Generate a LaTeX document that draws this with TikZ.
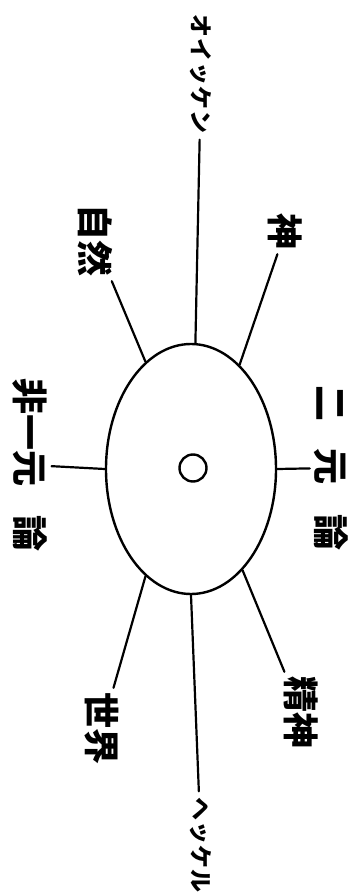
\documentclass[tikz,border=0pt]{standalone}
\usepackage{fontspec}
\usepackage{tikz}
\usetikzlibrary{arrows.meta,calc,positioning,shapes.geometric}
\newfontfamily\jpfont{Noto Sans CJK JP}
\tikzset{
  raggio/.style={line width=2.2pt, line cap=round},
  kanji/.style={rotate=-90, inner sep=4pt, font=\jpfont\bfseries\fontsize{36}{36}\selectfont},
  kana/.style={rotate=-90, inner sep=6pt, font=\jpfont\bfseries\fontsize{23}{23}\selectfont},
}

\begin{document}
\begin{tikzpicture}[x=1pt, y=-1pt]
    \useasboundingbox (0,0) rectangle (355,893);

    % Nucleo (ellisse) con cerchietto al centro
    \node[ellipse, draw, line width=2.4pt, minimum width=170pt, minimum height=250pt, inner sep=0pt]
        (nucleo) at (191,469) {};
    \node[circle, draw, line width=2.4pt, minimum size=27pt, inner sep=0pt] (centro) at (193,468) {};

    % Etichette (testo ruotato)
    \node[kana]  (oi)      at (201,74)  {オ\kern1ptイ\kern1ptッ\kern1ptケ\kern1ptン};
    \node[kana]  (he)      at (201,845) {ヘ\kern1ptッ\kern1ptケ\kern1ptル};
    \node[kanji] (kami)    at (285,232) {神};
    \node[kanji] (shizen)  at (95,241)  {自然};
    \node[kanji] (niben)   at (331,468) {二\hspace{28pt}元\hspace{30pt}論};
    \node[kanji] (hiichi)  at (30,465)  {非一元\hspace{30pt}論};
    \node[kanji] (seishin) at (301,712) {精神};
    \node[kanji] (sekai)   at (102,728) {世界};

    % Raggi dal nucleo
    \draw[raggio] (oi) -- (nucleo.88);
    \draw[raggio] (he) -- (nucleo.270);
    \draw[raggio] (kami) -- (nucleo.65);
    \draw[raggio] (shizen) -- (nucleo.113);
    \draw[raggio] (niben) -- (nucleo.0);
    \draw[raggio] (hiichi) -- (nucleo.180);
    \draw[raggio] (seishin) -- (nucleo.297);
    \draw[raggio] (sekai) -- (nucleo.247);
\end{tikzpicture}
\end{document}
